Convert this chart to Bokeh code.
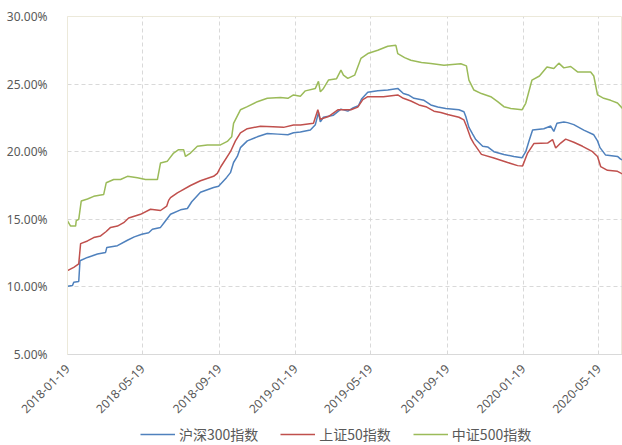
from datetime import datetime
import pandas as pd
from bokeh.plotting import figure
from bokeh.layouts import column
from bokeh.models import (Range1d, FixedTicker, DatetimeTickFormatter, PrintfTickFormatter,
                          Legend, LegendItem)
from bokeh.embed import file_html
from bokeh.resources import INLINE

# ---------------- data ----------------
x_tick_labels = ["2018-01-19", "2018-05-19", "2018-09-19", "2019-01-19",
                 "2019-05-19", "2019-09-19", "2020-01-19", "2020-05-19"]
y_ticks = [5, 10, 15, 20, 25, 30]

series_names = ["沪深300指数", "上证50指数", "中证500指数"]

hs300_dates = ["2018-01-19", "2018-01-27", "2018-01-29", "2018-02-06", "2018-02-08", "2018-02-20",
               "2018-03-08", "2018-03-21", "2018-03-23", "2018-04-09", "2018-04-25", "2018-05-06",
               "2018-05-18", "2018-05-29", "2018-06-04", "2018-06-17", "2018-06-23", "2018-07-03",
               "2018-07-19", "2018-07-30", "2018-08-06", "2018-08-20", "2018-09-10", "2018-09-18",
               "2018-10-01", "2018-10-07", "2018-10-12", "2018-10-18", "2018-10-23", "2018-11-03",
               "2018-11-19", "2018-12-05", "2018-12-22", "2019-01-07", "2019-01-16", "2019-01-27",
               "2019-02-12", "2019-02-20", "2019-02-25", "2019-02-28", "2019-03-05", "2019-03-21",
               "2019-04-02", "2019-04-13", "2019-04-22", "2019-04-30", "2019-05-05", "2019-05-15",
               "2019-05-31", "2019-06-16", "2019-07-02", "2019-07-11", "2019-07-19", "2019-07-28",
               "2019-08-13", "2019-08-24", "2019-09-04", "2019-09-17", "2019-10-08", "2019-10-16",
               "2019-10-19", "2019-10-24", "2019-10-30", "2019-11-04", "2019-11-15", "2019-11-23",
               "2019-12-03", "2019-12-19", "2020-01-04", "2020-01-17", "2020-01-23", "2020-01-29",
               "2020-02-03", "2020-02-21", "2020-03-03", "2020-03-08", "2020-03-13", "2020-03-24",
               "2020-03-30", "2020-04-09", "2020-04-25", "2020-05-11", "2020-05-17", "2020-05-21",
               "2020-05-30", "2020-06-18", "2020-06-23", "2020-06-26"]
hs300_vals = [10.05, 10.1, 10.35, 10.4, 11.93, 12.18,
              12.43, 12.55, 12.92, 13.05, 13.45, 13.7,
              13.9, 14.0, 14.26, 14.4, 14.76, 15.37,
              15.7, 15.8, 16.3, 17.0, 17.35, 17.45,
              18.1, 18.45, 19.2, 19.65, 20.3, 20.8,
              21.1, 21.35, 21.3, 21.25, 21.4, 21.45,
              21.6, 22.0, 22.9, 22.2, 22.55, 22.7,
              23.15, 23.0, 23.25, 23.4, 23.9, 24.4,
              24.5, 24.56, 24.68, 24.3, 24.2, 23.95,
              23.8, 23.46, 23.3, 23.2, 23.1, 22.96,
              22.6, 21.8, 21.3, 20.9, 20.4, 20.35,
              20.0, 19.8, 19.65, 19.55, 20.0, 20.9,
              21.6, 21.7, 21.9, 21.5, 22.1, 22.2,
              22.15, 22.0, 21.6, 21.25, 20.8, 20.3,
              19.75, 19.65, 19.45, 19.4]

sz50_dates = ["2018-01-19", "2018-01-29", "2018-02-06", "2018-02-09", "2018-02-20", "2018-03-02",
              "2018-03-13", "2018-03-22", "2018-03-29", "2018-04-09", "2018-04-19", "2018-04-27",
              "2018-05-16", "2018-06-01", "2018-06-17", "2018-06-27", "2018-06-30", "2018-07-03",
              "2018-07-14", "2018-07-19", "2018-08-04", "2018-08-20", "2018-09-10", "2018-09-16",
              "2018-09-21", "2018-10-07", "2018-10-15", "2018-10-23", "2018-11-03", "2018-11-24",
              "2018-12-14", "2018-12-31", "2019-01-16", "2019-01-27", "2019-02-17", "2019-02-24",
              "2019-02-28", "2019-03-13", "2019-03-28", "2019-04-18", "2019-04-29", "2019-05-07",
              "2019-05-15", "2019-06-09", "2019-07-02", "2019-07-11", "2019-07-23", "2019-08-05",
              "2019-08-16", "2019-08-29", "2019-09-09", "2019-09-20", "2019-10-08", "2019-10-16",
              "2019-10-20", "2019-10-27", "2019-11-01", "2019-11-13", "2019-12-03", "2019-12-25",
              "2020-01-10", "2020-01-18", "2020-01-26", "2020-02-05", "2020-02-27", "2020-03-06",
              "2020-03-11", "2020-03-19", "2020-03-27", "2020-04-09", "2020-04-23", "2020-05-09",
              "2020-05-17", "2020-05-22", "2020-06-02", "2020-06-18", "2020-06-26"]
sz50_vals = [11.2, 11.45, 11.7, 13.2, 13.4, 13.65,
             13.77, 14.1, 14.4, 14.5, 14.75, 15.1,
             15.37, 15.74, 15.65, 15.98, 16.4, 16.6,
             16.96, 17.08, 17.5, 17.85, 18.18, 18.4,
             18.85, 20.0, 20.8, 21.4, 21.7, 21.88,
             21.85, 21.8, 21.98, 21.98, 22.1, 23.1,
             22.4, 22.6, 23.1, 23.1, 23.3, 23.85,
             24.07, 24.07, 24.2, 23.95, 23.75, 23.46,
             23.33, 23.0, 22.9, 22.75, 22.55, 22.35,
             21.9, 21.0, 20.6, 19.8, 19.53, 19.2,
             18.97, 18.95, 19.9, 20.6, 20.64, 20.9,
             20.27, 20.64, 20.93, 20.7, 20.4, 20.0,
             19.65, 18.9, 18.62, 18.55, 18.35]

zz500_dates = ["2018-01-19", "2018-01-24", "2018-02-01", "2018-02-02", "2018-02-06", "2018-02-10",
               "2018-02-20", "2018-03-02", "2018-03-18", "2018-03-22", "2018-04-03", "2018-04-14",
               "2018-04-25", "2018-05-11", "2018-05-24", "2018-06-12", "2018-06-17", "2018-06-28",
               "2018-07-08", "2018-07-16", "2018-07-24", "2018-07-27", "2018-08-04", "2018-08-15",
               "2018-08-31", "2018-09-21", "2018-10-02", "2018-10-09", "2018-10-12", "2018-10-23",
               "2018-11-03", "2018-11-19", "2018-12-05", "2018-12-26", "2019-01-07", "2019-01-16",
               "2019-01-27", "2019-02-04", "2019-02-20", "2019-02-25", "2019-02-28", "2019-03-05",
               "2019-03-13", "2019-03-26", "2019-04-02", "2019-04-06", "2019-04-13", "2019-04-24",
               "2019-05-04", "2019-05-15", "2019-05-31", "2019-06-16", "2019-06-29", "2019-07-02",
               "2019-07-13", "2019-07-23", "2019-08-09", "2019-08-24", "2019-09-14", "2019-10-11",
               "2019-10-20", "2019-10-24", "2019-11-01", "2019-11-13", "2019-11-28", "2019-12-09",
               "2019-12-19", "2019-12-30", "2020-01-17", "2020-01-23", "2020-02-02", "2020-02-14",
               "2020-02-26", "2020-03-08", "2020-03-16", "2020-03-24", "2020-04-04", "2020-04-15",
               "2020-05-06", "2020-05-11", "2020-05-17", "2020-05-27", "2020-06-07", "2020-06-18",
               "2020-06-26"]
zz500_vals = [14.88, 14.5, 14.5, 14.9, 15.0, 16.35,
              16.5, 16.7, 16.84, 17.7, 17.94, 17.94,
              18.18, 18.07, 17.94, 17.94, 19.17, 19.3,
              19.9, 20.15, 20.15, 19.65, 19.9, 20.4,
              20.5, 20.5, 20.76, 21.1, 22.1, 23.1,
              23.33, 23.7, 23.95, 24.0, 23.95, 24.2,
              24.1, 24.5, 24.68, 25.2, 24.43, 24.68,
              25.3, 25.4, 26.03, 25.66, 25.42, 25.66,
              26.9, 27.26, 27.5, 27.8, 27.87, 27.26,
              26.96, 26.76, 26.6, 26.52, 26.4, 26.5,
              26.35, 25.3, 24.56, 24.3, 24.07, 23.7,
              23.33, 23.2, 23.1, 23.58, 25.3, 25.6,
              26.27, 26.15, 26.55, 26.2, 26.3, 25.9,
              25.9, 25.6, 24.2, 23.95, 23.8, 23.6,
              23.2]

colors = ["#4F81BD", "#C0504D", "#9BBB59"]

# ---------------- main figure ----------------
p = figure(width=622, height=420, x_axis_type="datetime",
           output_backend="svg", toolbar_location=None,
           x_range=Range1d(datetime(2018, 1, 19), datetime(2020, 6, 26)),
           y_range=Range1d(5, 30),
           min_border_left=67, min_border_right=0, min_border_top=16, min_border_bottom=64)
p.background_fill_color = "white"
p.border_fill_color = "white"
p.outline_line_color = "#ECE9DA"
p.outline_line_width = 1

for dates, vals, c in [(hs300_dates, hs300_vals, colors[0]),
                       (sz50_dates, sz50_vals, colors[1]),
                       (zz500_dates, zz500_vals, colors[2])]:
    p.line(pd.to_datetime(dates), vals, line_color=c, line_width=1.5)

tick_ms = [pd.Timestamp(d).value // 10**6 for d in x_tick_labels]
p.xaxis.ticker = FixedTicker(ticks=tick_ms)
fmt = "%Y-%m-%d"
p.xaxis.formatter = DatetimeTickFormatter(days=fmt, months=fmt, years=fmt, hours=fmt,
                                          hourmin=fmt, minutes=fmt, minsec=fmt, seconds=fmt,
                                          milliseconds=fmt, microseconds=fmt)
p.xaxis.major_label_orientation = 0.7854
p.xaxis.major_label_standoff = 6
p.xaxis.axis_line_color = "#D9D9D9"
p.xaxis.major_tick_line_color = None
p.xaxis.minor_tick_line_color = None
p.xaxis.major_label_text_font = "Noto Sans"
p.xaxis.major_label_text_font_size = "12px"
p.xaxis.major_label_text_color = "#595959"

p.yaxis.ticker = FixedTicker(ticks=y_ticks)
p.yaxis.formatter = PrintfTickFormatter(format="%.2f%%")
p.yaxis.axis_line_color = "#ECE9DA"
p.yaxis.major_tick_line_color = None
p.yaxis.minor_tick_line_color = None
p.yaxis.major_label_standoff = 14
p.yaxis.major_label_text_font = "Noto Sans"
p.yaxis.major_label_text_font_size = "12px"
p.yaxis.major_label_text_color = "#595959"

p.xgrid.grid_line_color = "#D9D9D9"
p.xgrid.grid_line_dash = "4 3"
p.ygrid.grid_line_color = "#D9D9D9"
p.ygrid.grid_line_dash = "4 3"

# ---------------- legend strip ----------------
lg = figure(width=622, height=25, output_backend="svg", toolbar_location=None,
            x_range=Range1d(0, 1), y_range=Range1d(0, 1),
            x_axis_location=None, y_axis_location=None, min_border=0)
lg.outline_line_color = None
lg.grid.visible = False
lg.background_fill_color = "white"
lg.border_fill_color = "white"
dummy = [lg.line([5, 6], [5, 6], line_color=c, line_width=1.5) for c in colors]
legend = Legend(items=[LegendItem(label=n, renderers=[r]) for n, r in zip(series_names, dummy)],
                orientation="horizontal", location=(73, 1),
                glyph_width=35, glyph_height=18, label_height=18,
                label_standoff=4, spacing=22, padding=0, margin=0,
                border_line_color=None, background_fill_alpha=0,
                label_text_font="Noto Sans CJK SC", label_text_font_size="14px",
                label_text_color="#595959")
lg.add_layout(legend, "center")

open("out.html", "w").write(file_html(column(p, lg, spacing=0), INLINE))
